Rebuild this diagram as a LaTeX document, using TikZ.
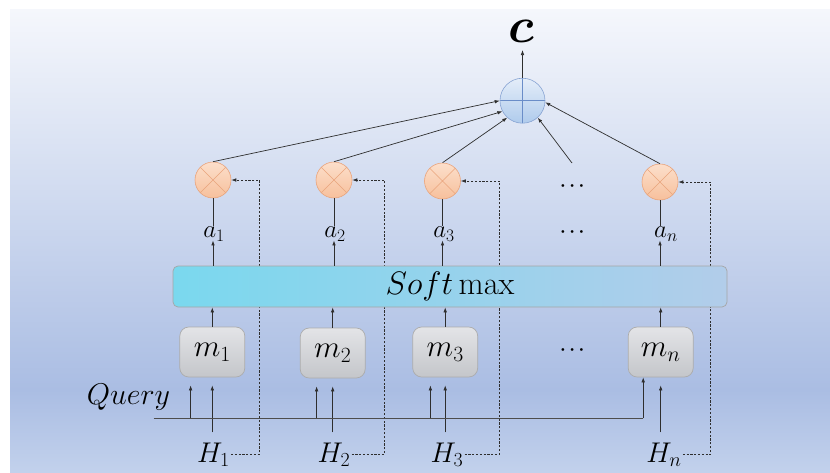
\documentclass[tikz,border=0pt]{standalone}
\usepackage{fix-cm}
\usepackage{amsmath,bm}
\usetikzlibrary{arrows.meta,calc}
\definecolor{bgtop}{HTML}{F5F7FC}
\definecolor{bgmid}{HTML}{AABDE3}
\definecolor{bgbot}{HTML}{C2D1EC}
\definecolor{ortop}{HTML}{FCDFCB}
\definecolor{orbot}{HTML}{F7C09C}
\definecolor{orline}{HTML}{E9A47C}
\definecolor{pltop}{HTML}{E4EDF9}
\definecolor{plbot}{HTML}{AFCBEC}
\definecolor{plline}{HTML}{6A8DC8}
\definecolor{smleft}{HTML}{7AD8EE}
\definecolor{smright}{HTML}{B2CDEA}
\definecolor{mtop}{HTML}{E3E4E7}
\definecolor{mbot}{HTML}{C4C6CA}
\definecolor{ink}{HTML}{2E2E2E}
\begin{document}
\begin{tikzpicture}[x=1pt,y=-1pt,
  conn/.style={draw=ink,line width=0.7pt},
  arr/.style={conn,-{Latex[length=5pt,width=3.6pt]}},
  dsh/.style={arr,dash pattern=on 2.2pt off 1.6pt},
  timesnode/.style={circle,minimum size=36pt,inner sep=0pt,draw=orline,line width=0.6pt,
     top color=ortop,bottom color=orbot,
     path picture={\draw[orline,line width=0.6pt] (path picture bounding box.north west) -- (path picture bounding box.south east)
        (path picture bounding box.north east) -- (path picture bounding box.south west);}},
  plusnode/.style={circle,minimum size=45pt,inner sep=0pt,draw=plline!80,line width=0.6pt,
     top color=pltop,bottom color=plbot,
     path picture={\draw[plline,line width=0.6pt] (path picture bounding box.north) -- (path picture bounding box.south)
        (path picture bounding box.west) -- (path picture bounding box.east);}},
  mbox/.style={rectangle,rounded corners=9pt,minimum width=65pt,minimum height=50pt,inner sep=0pt,
     draw=gray!65,line width=0.7pt,top color=mtop,bottom color=mbot,
     font=\fontsize{31}{33}\selectfont},
  smbox/.style={rectangle,rounded corners=5pt,minimum width=554pt,minimum height=41pt,inner sep=0pt,
     draw=gray!70,line width=0.7pt,left color=smleft,right color=smright,
     font=\fontsize{32.5}{35}\selectfont},
  alab/.style={inner sep=1pt,font=\fontsize{25}{27}\selectfont},
  hlab/.style={inner sep=0pt,font=\fontsize{28.5}{30}\selectfont},
  dotlab/.style={inner sep=0pt,font=\fontsize{18}{20}\selectfont}
]
\useasboundingbox (0,0) rectangle (830,472);
\shade[top color=bgtop,bottom color=bgmid] (10,9) rectangle (830,390);
\shade[top color=bgmid,bottom color=bgbot] (10,389.5) rectangle (830,472);

% top
\node[plusnode] (plus) at (522.5,100.7) {};
\node[inner sep=0pt,font=\fontsize{50}{52}\selectfont] (c) at (521,31) {$\bm{c}$};
\coordinate (ctop) at (522.5,50);
\draw[arr] (plus.north) -- (ctop);

% multiply circles
\node[timesnode] (o1) at (213,180) {};
\node[timesnode] (o2) at (334,180) {};
\node[timesnode] (o3) at (442.5,181) {};
\node[timesnode] (on) at (660,182) {};
\node[dotlab] (d1) at (574,186) {$\boldsymbol{\cdots}$};
\node[dotlab] (d2) at (574,232) {$\boldsymbol{\cdots}$};
\coordinate (d0) at (572,163);

\draw[arr] (o1.north) -- (plus.180);
\draw[arr] (o2.north) -- (plus.208);
\draw[arr] (o3.north) -- (plus.228);
\draw[arr] (d0) -- (plus.312);
\draw[arr] (on.north) -- (plus.356);

% H labels
\node[hlab] (H1) at (213.5,454.5) {$H_1$};
\node[hlab] (H2) at (334,454.5) {$H_2$};
\node[hlab] (H3) at (447,454.5) {$H_3$};
\node[hlab] (Hn) at (664,454.5) {$H_n$};

% dashed feedback lines (drawn first, softmax box covers them)
\coordinate (k1) at (259.4,180);
\coordinate (k2) at (384.5,180);
\coordinate (k3) at (499.3,181);
\coordinate (kn) at (710.8,182);
\draw[dsh] ([xshift=1pt]H1.east) -| (k1) -- (o1.east);
\draw[dsh] ([xshift=1pt]H2.east) -| (k2) -- (o2.east);
\draw[dsh] ([xshift=1pt]H3.east) -| (k3) -- (o3.east);
\draw[dsh] ([xshift=1pt]Hn.east) -| (kn) -- (on.east);

% a labels
\node[alab] (a1) at (214,234) {$a_1$};
\node[alab] (a2) at (335,234) {$a_2$};
\node[alab] (a3) at (444,234) {$a_3$};
\node[alab] (an) at (666,234) {$a_n$};

% softmax
\node[smbox] (sm) at (450,286.5) {$Soft\max$};

\foreach \o/\a in {o1/a1,o2/a2,o3/a3,on/an}{
  \draw[conn] (\o.south) -- (\o.south |- \a.north);
  \draw[arr] (\o |- sm.north) -- ([yshift=2pt]\o |- \a.south);
}

% m boxes
\node[mbox] (m1) at (212.3,352) {$m_1$};
\node[mbox] (m2) at (332.7,353) {$m_2$};
\node[mbox] (m3) at (445.2,352) {$m_3$};
\node[mbox] (mn) at (660.7,352) {$m_n$};
\node[dotlab] (d3) at (574,350) {$\boldsymbol{\cdots}$};
\foreach \m in {m1,m2,m3,mn}{
  \draw[arr] (\m.north) -- (\m.north |- sm.south);
}
\foreach \m/\h in {m1/H1,m2/H2,m3/H3,mn/Hn}{
  \draw[arr] ([yshift=10pt]\m.south |- \h.north) -- ([yshift=-8pt]\m.south);
}

% query
\node[inner sep=0pt,font=\fontsize{30}{32}\selectfont] (q) at (128.5,397) {$Query$};
\coordinate (qL) at (153.5,418.3);
\coordinate (qR) at (643.2,418.3);
\draw[draw=ink!85,line width=1.2pt] (qL) -- (qR);
\draw[arr] (qR) -- (qR |- mn.south);
\foreach \m/\dx in {m1/-21.7,m2/-16.1,m3/-14.8}{
  \draw[arr] ([xshift=\dx pt]\m.south |- qL) -- ([xshift=\dx pt,yshift=-8pt]\m.south);
}
\end{tikzpicture}
\end{document}
